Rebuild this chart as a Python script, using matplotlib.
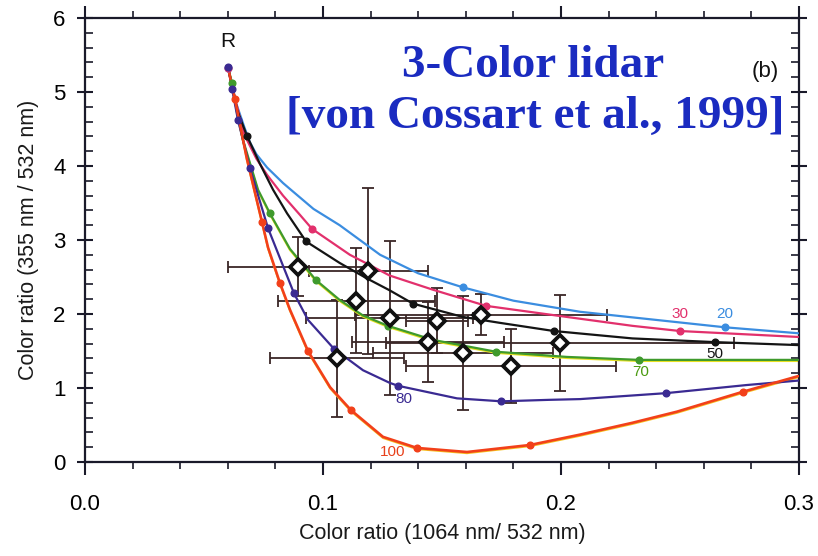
import matplotlib
matplotlib.use("Agg")
import matplotlib.pyplot as plt
from matplotlib.ticker import MultipleLocator
import matplotlib.transforms as mtransforms

# ---- model curves: color ratio 355/532 vs 1064/532, labelled by parameter ----
blue_x = [0.0601, 0.0635, 0.0670, 0.0693, 0.0720, 0.0765, 0.0832, 0.0861, 0.0960, 0.1070, 0.1240, 0.1400, 0.1588, 0.1800, 0.2080, 0.2400, 0.2690, 0.2996]
blue_y = [5.33, 4.85, 4.52, 4.32, 4.16, 3.98, 3.77, 3.69, 3.42, 3.20, 2.80, 2.55, 2.36, 2.18, 2.03, 1.92, 1.82, 1.74]

pink_x = [0.0601, 0.0635, 0.0670, 0.0720, 0.0765, 0.0832, 0.0903, 0.0954, 0.1113, 0.1185, 0.1280, 0.1460, 0.1685, 0.2025, 0.2300, 0.2500, 0.2996]
pink_y = [5.33, 4.85, 4.42, 4.10, 3.88, 3.60, 3.34, 3.15, 2.80, 2.68, 2.52, 2.33, 2.11, 1.96, 1.84, 1.77, 1.69]

black_x = [0.0601, 0.0640, 0.0680, 0.0735, 0.0790, 0.0849, 0.0929, 0.1070, 0.1185, 0.1280, 0.1378, 0.1588, 0.1744, 0.1970, 0.2300, 0.2647, 0.2996]
black_y = [5.33, 4.75, 4.41, 4.03, 3.68, 3.36, 2.98, 2.69, 2.48, 2.32, 2.14, 1.96, 1.88, 1.77, 1.67, 1.62, 1.58]

green_x = [0.0601, 0.0618, 0.0640, 0.0664, 0.0727, 0.0777, 0.0861, 0.0970, 0.1070, 0.1168, 0.1273, 0.1462, 0.1727, 0.2025, 0.2328, 0.2996]
green_y = [5.33, 5.12, 4.70, 4.35, 3.68, 3.36, 2.88, 2.46, 2.19, 1.98, 1.84, 1.65, 1.49, 1.42, 1.38, 1.38]

purple_x = [0.0601, 0.0618, 0.0643, 0.0693, 0.0769, 0.0878, 0.0937, 0.1046, 0.1168, 0.1280, 0.1315, 0.1563, 0.1750, 0.1950, 0.2080, 0.2440, 0.2780, 0.2996]
purple_y = [5.34, 5.04, 4.62, 3.97, 3.16, 2.28, 1.92, 1.53, 1.24, 1.07, 1.03, 0.86, 0.82, 0.84, 0.85, 0.93, 1.04, 1.10]

red_x = [0.0601, 0.0630, 0.0680, 0.0744, 0.0769, 0.0819, 0.0861, 0.0937, 0.1030, 0.1118, 0.1252, 0.1395, 0.1605, 0.1870, 0.2080, 0.2300, 0.2487, 0.2765, 0.2996]
red_y = [5.33, 4.90, 4.10, 3.24, 2.90, 2.42, 2.06, 1.50, 1.01, 0.70, 0.34, 0.19, 0.135, 0.23, 0.37, 0.53, 0.68, 0.95, 1.16]

# calculated points marked along each curve
blue_dot_x = [0.0601, 0.1588, 0.2690]
blue_dot_y = [5.33, 2.36, 1.82]
pink_dot_x = [0.0601, 0.0954, 0.1685, 0.2500]
pink_dot_y = [5.33, 3.15, 2.11, 1.77]
black_dot_x = [0.0680, 0.0929, 0.1378, 0.1970, 0.2647]
black_dot_y = [4.41, 2.98, 2.14, 1.77, 1.62]
green_dot_x = [0.0618, 0.0777, 0.0970, 0.1273, 0.1727, 0.2328]
green_dot_y = [5.12, 3.36, 2.46, 1.84, 1.49, 1.38]
purple_dot_x = [0.0601, 0.0618, 0.0643, 0.0693, 0.0769, 0.0878, 0.1046, 0.1315, 0.1750, 0.2440]
purple_dot_y = [5.34, 5.04, 4.62, 3.97, 3.16, 2.28, 1.53, 1.03, 0.82, 0.93]
red_dot_x = [0.0630, 0.0744, 0.0819, 0.0937, 0.1118, 0.1395, 0.1870, 0.2765]
red_dot_y = [4.90, 3.24, 2.42, 1.50, 0.70, 0.19, 0.23, 0.95]

curve_labels = ["20", "30", "50", "70", "80", "100"]
label_x = [0.269, 0.250, 0.2647, 0.2336, 0.134, 0.1294]
label_y = [2.00, 2.00, 1.46, 1.22, 0.85, 0.14]

# ---- lidar measurements ----
obs_x = [0.0895, 0.1190, 0.1139, 0.1280, 0.1480, 0.1664, 0.1440, 0.1588, 0.1790, 0.1996, 0.1059]
obs_y = [2.64, 2.58, 2.18, 1.95, 1.91, 1.99, 1.62, 1.47, 1.30, 1.61, 1.40]
obs_xerr = [0.0295, 0.025, 0.033, 0.035, 0.013, 0.053, 0.032, 0.038, 0.044, 0.073, 0.028]
obs_yerr = [0.40, 1.12, 0.71, 1.04, 0.44, 0.28, 0.54, 0.77, 0.50, 0.65, 0.79]

plt.rcParams["font.family"] = ["Liberation Sans", "DejaVu Sans"]

fig = plt.figure(figsize=(8.18, 5.56), dpi=100)
ax = fig.add_axes([85 / 818, 94 / 556, 714 / 818, 444 / 556])

# error bars first, diamonds last
ax.errorbar(obs_x, obs_y, xerr=obs_xerr, yerr=obs_yerr, fmt="none",
            ecolor="#3a2626", elinewidth=1.3, capsize=4, capthick=1.3, zorder=2)

curves = [
    (blue_x, blue_y, blue_dot_x, blue_dot_y, "#3b8de0"),
    (pink_x, pink_y, pink_dot_x, pink_dot_y, "#e2306c"),
    (black_x, black_y, black_dot_x, black_dot_y, "#141414"),
    (green_x, green_y, green_dot_x, green_dot_y, "#3f9a2c"),
    (purple_x, purple_y, purple_dot_x, purple_dot_y, "#3a2a92"),
    (red_x, red_y, red_dot_x, red_dot_y, "#f2401a"),
]
under = mtransforms.offset_copy(ax.transData, fig=fig, x=0, y=-1.2, units="dots")
# yellowish print halo below the green and red lines
ax.plot(green_x, green_y, color="#e6e020", lw=1.4, transform=under, zorder=2.5)
ax.plot(red_x, red_y, color="#f6c020", lw=1.4, transform=under, zorder=2.5)
for cx, cy, dx, dy, col in curves:
    lw = 1.9 if col == "#f2401a" else 1.6
    ax.plot(cx, cy, color=col, lw=lw, zorder=3, solid_capstyle="round", solid_joinstyle="round")
    ax.plot(dx, dy, "o", color=col, ms=4.8, zorder=3.5)

ax.plot(obs_x, obs_y, "D", ms=8.5, mfc="white", mec="#101010", mew=2.7, zorder=5)

label_colors = ["#3b8de0", "#e2306c", "#141414", "#4a9a10", "#3a2a92", "#e8401a"]
for t, lx, ly, c in zip(curve_labels, label_x, label_y, label_colors):
    ax.text(lx, ly, t, color=c, fontsize=11, ha="center", va="center", zorder=6)

ax.text(0.0601, 5.68, "R", fontsize=15, ha="center", va="center", color="#111111")
fig.text(765 / 818, 1 - 72 / 556, "(b)", fontsize=16, ha="center", va="center", color="#111111")

fig.text(533 / 818, 1 - 66 / 556, "3-Color lidar", fontsize=34, fontweight="bold",
         family=["Liberation Serif", "DejaVu Serif"], color="#1a2bc0", ha="center", va="center")
fig.text(535 / 818, 1 - 117 / 556, "[von Cossart et al., 1999]", fontsize=34, fontweight="bold",
         family=["Liberation Serif", "DejaVu Serif"], color="#1a2bc0", ha="center", va="center")

ax.set_xlim(0.0, 0.3)
ax.set_ylim(0, 6)
ax.xaxis.set_major_locator(MultipleLocator(0.1))
ax.xaxis.set_minor_locator(MultipleLocator(0.02))
ax.yaxis.set_major_locator(MultipleLocator(1))
ax.yaxis.set_minor_locator(MultipleLocator(0.2))
ax.set_xticks([0.0, 0.1, 0.2, 0.3])
ax.set_xticklabels(["0.0", "0.1", "0.2", "0.3"])

ax.tick_params(axis="x", which="both", direction="out", top=True, bottom=True, color="#1a1a2a")
ax.tick_params(axis="x", which="major", length=9, width=1.5, labelsize=16, pad=14)
ax.tick_params(axis="x", which="minor", length=5, width=1.2)
ax.tick_params(axis="y", which="both", direction="in", left=True, right=True, color="#1a1a2a")
ax.tick_params(axis="y", which="major", direction="inout", length=12, width=1.5, labelsize=16, pad=8)
ax.tick_params(axis="y", which="minor", length=6, width=1.2)
for sp in ax.spines.values():
    sp.set_linewidth(1.6)
    sp.set_color("#1a1a2a")

ax.set_xlabel("Color ratio (1064 nm/ 532 nm)", fontsize=15.5, labelpad=6, color="#1a1a1a")
ax.set_ylabel("Color ratio (355 nm / 532 nm)", fontsize=15.5, labelpad=10, color="#1a1a1a")

fig.savefig("out.png", dpi=100, facecolor="white")
